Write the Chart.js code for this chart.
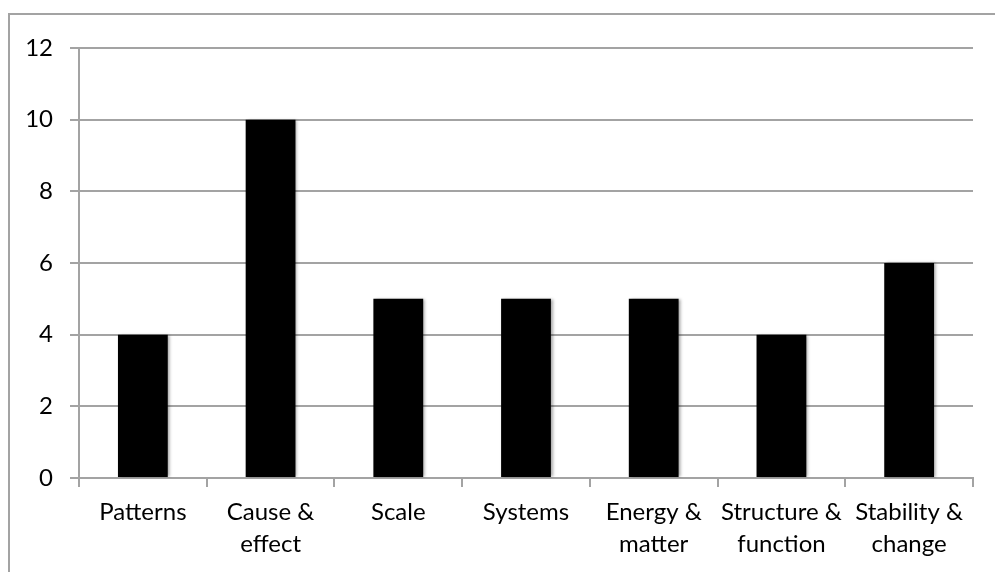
<!DOCTYPE html>
<html>
<head>
<meta charset="utf-8">
<script src="https://cdn.jsdelivr.net/npm/chart.js@4/dist/chart.umd.min.js"></script>
<style>
  html, body { margin: 0; padding: 0; background: #fff; overflow: hidden; }
  #wrap { position: relative; width: 995px; height: 572px; }
  #frame {
    position: absolute; left: 8px; top: 13px; width: 1100px; height: 700px;
    border-left: 2px solid #a3a3a3; border-top: 2px solid #a3a3a3;
  }
  canvas { position: absolute; left: 0; top: 0; }
</style>
</head>
<body>
<div id="wrap">
  <div id="frame"></div>
  <canvas id="chart" width="995" height="572"></canvas>
</div>
<script>
// Categories (multi-line labels) and counts
const categories = [
    ['Patterns'],
    ['Cause &', 'effect'],
    ['Scale'],
    ['Systems'],
    ['Energy &', 'matter'],
    ['Structure &', 'function'],
    ['Stability &', 'change']
];
const counts = [4, 10, 5, 5, 5, 4, 6];
const yTicks = [0, 2, 4, 6, 8, 10, 12];

const gridGray = '#a3a3a3';

// light drop shadow on the bars, like the original
const barShadow = {
    id: 'barShadow',
    beforeDatasetsDraw(chart) {
        const ctx = chart.ctx;
        ctx.save();
        ctx.shadowColor = 'rgba(0,0,0,0.35)';
        ctx.shadowOffsetX = 2;
        ctx.shadowOffsetY = 0;
        ctx.shadowBlur = 3;
    },
    afterDatasetsDraw(chart) {
        chart.ctx.restore();
    }
};

const ctx = document.getElementById('chart').getContext('2d');
new Chart(ctx, {
    type: 'bar',
    data: {
        labels: categories,
        datasets: [{
            data: counts,
            backgroundColor: '#000000',
            borderWidth: 0,
            categoryPercentage: 1,
            barPercentage: 0.39
        }]
    },
    options: {
        responsive: false,
        animation: false,
        events: [],
        layout: { padding: { left: 0, top: 48, right: 22, bottom: 0 } },
        plugins: {
            legend: { display: false },
            tooltip: { enabled: false }
        },
        scales: {
            x: {
                offset: true,
                grid: {
                    offset: true,
                    drawOnChartArea: false,
                    color: gridGray,
                    lineWidth: 2,
                    tickLength: 9
                },
                border: { color: gridGray, width: 2 },
                ticks: {
                    color: '#000',
                    font: { family: 'Lato', size: 24, lineHeight: 1.3 },
                    maxRotation: 0,
                    autoSkip: false,
                    padding: 10
                },
                afterFit(scale) { scale.height = 94; }
            },
            y: {
                min: 0,
                max: 12,
                afterBuildTicks(scale) {
                    scale.ticks = yTicks.map(v => ({ value: v }));
                },
                grid: {
                    color: gridGray,
                    lineWidth: 2,
                    tickLength: 9
                },
                border: { color: gridGray, width: 2 },
                ticks: {
                    color: '#000',
                    font: { family: 'Lato', size: 24 },
                    padding: 17
                },
                afterFit(scale) { scale.width = 79; }
            }
        }
    },
    plugins: [barShadow]
});
</script>
</body>
</html>
